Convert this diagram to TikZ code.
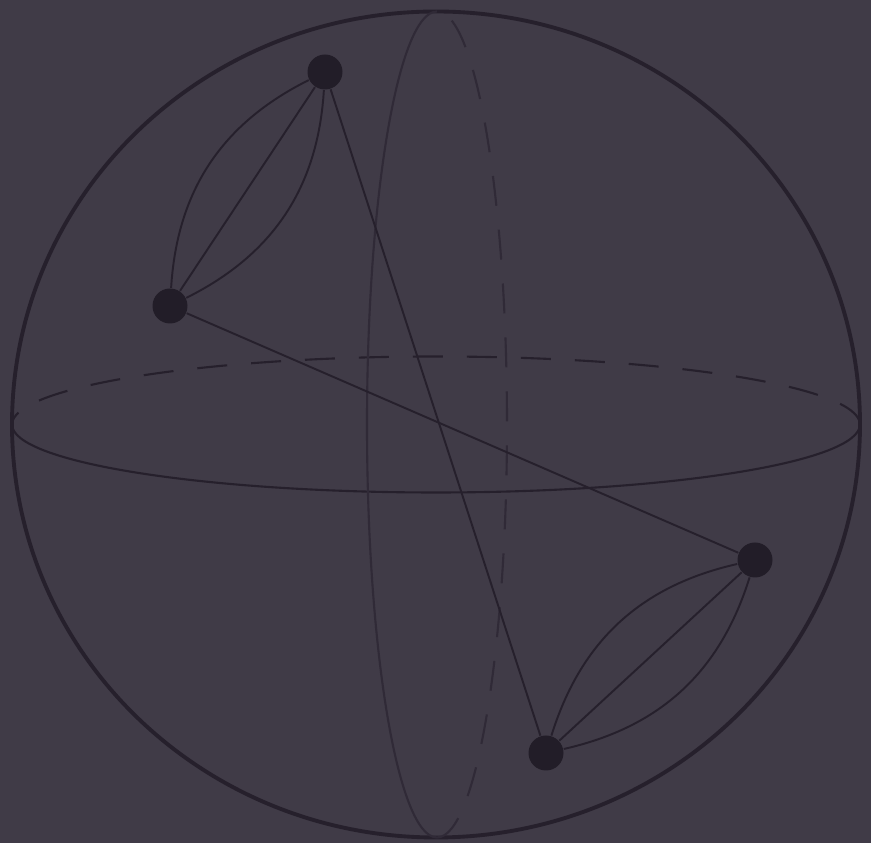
\documentclass[tikz,border=0pt]{standalone}
\usepackage{amsmath, amssymb}
\definecolor{bgPurple}{RGB}{64,59,71}
\definecolor{inkDark}{RGB}{38,32,44}
\definecolor{inkSoft}{RGB}{48,42,55}
\tikzstyle{sphere}=[draw=inkDark, line width=1.1pt]
\tikzstyle{frontLine}=[draw=inkDark, line width=0.6pt]
\tikzstyle{backLine}=[draw=inkDark, line width=0.6pt, dash pattern=on 3mm off 2.4mm]
\tikzstyle{meridian}=[draw=inkSoft, line width=0.6pt]
\tikzstyle{edgeLine}=[draw=inkDark, line width=0.55pt]
\tikzstyle{vertex}=[circle, fill=inkDark!90!black, inner sep=0pt, minimum size=3.5mm]

\begin{document}
\begin{tikzpicture}
				% Background and frame
				\fill[bgPurple] (0,0) rectangle (8.71,8.43);
				\useasboundingbox (0,0) rectangle (8.71,8.43);

				% Sphere with equator and meridian
				\draw[sphere] (4.36,4.185) ellipse[x radius=4.24, y radius=4.13];
				\draw[frontLine] (0.12,4.185) arc[start angle=180, end angle=360, x radius=4.24, y radius=0.68];
				\draw[backLine] (8.60,4.185) arc[start angle=0, end angle=180, x radius=4.24, y radius=0.68];
				\draw[meridian] (4.37,8.315) arc[start angle=90, end angle=270, x radius=0.70, y radius=4.13];
				\draw[meridian, dash pattern=on 3mm off 2.4mm] (4.37,0.055) arc[start angle=-90, end angle=90, x radius=0.70, y radius=4.13];

				% Points on the sphere
				\node[vertex] (p1) at (3.25,7.71) {};
				\node[vertex] (p2) at (1.70,5.37) {};
				\node[vertex] (p3) at (7.55,2.83) {};
				\node[vertex] (p4) at (5.46,0.90) {};

				% Connections
				\draw[edgeLine] (p1) -- (p2);
				\draw[edgeLine] (p1) to[bend right=30] (p2);
				\draw[edgeLine] (p1) to[bend left=30] (p2);
				\draw[edgeLine] (p3) -- (p4);
				\draw[edgeLine] (p3) to[bend right=30] (p4);
				\draw[edgeLine] (p3) to[bend left=30] (p4);
				\draw[edgeLine] (p1) -- (p4);
				\draw[edgeLine] (p2) -- (p3);
			\end{tikzpicture}
\end{document}
